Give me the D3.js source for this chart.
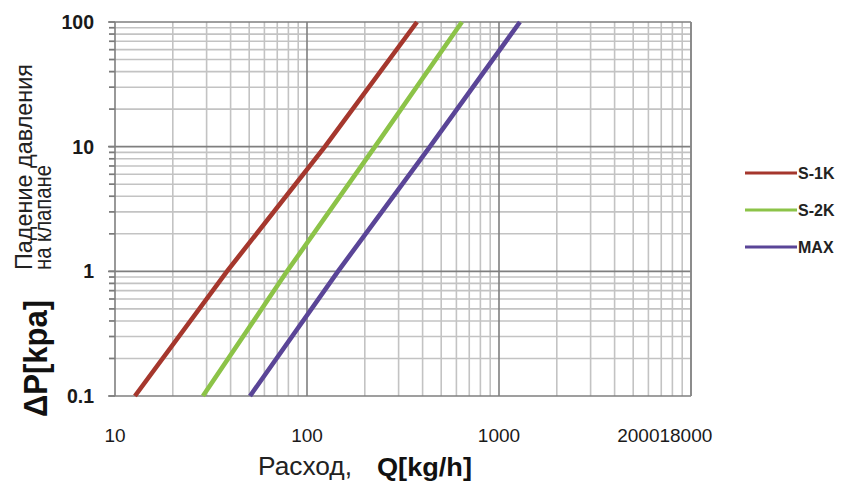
<!DOCTYPE html>
<html>
<head>
<meta charset="utf-8">
<script src="https://d3js.org/d3.v7.min.js"></script>
<style>
  body { margin: 0; background: #fff; }
  svg { font-family: "Liberation Sans", Arial, sans-serif; }
</style>
</head>
<body>
<div id="chart"></div>
<script>
// pressure drop vs. flow, log-log, three valve settings

const pressure = [0.1, 1, 10, 100]; // kPa, points
const seriesNames = ["S-1K", "S-2K", "MAX"];
const flowS1K = [12.7, 38.3, 124, 374];
const flowS2K = [28.7, 78.7, 226, 641];
const flowMAX = [50.5, 145, 437, 1285];
const colors = ["#a5372d", "#8cc348", "#5a4597"];

const xTickValues = [10, 100, 1000, 7300];
const xTickLabels = ["10", "100", "1000", "200018000"];
const yTickValues = [0.1, 1, 10, 100];
const yTickLabels = ["0.1", "1", "10", "100"];

const margin = { top: 22, right: 159, bottom: 87, left: 115 };
const W = 850, H = 483;
const width = W - margin.left - margin.right;
const height = H - margin.top - margin.bottom;

const svgRoot = d3.select("#chart").append("svg")
  .attr("width", W)
  .attr("height", H);

const svg = svgRoot.append("g")
  .attr("transform", `translate(${margin.left},${margin.top})`);

const x = d3.scaleLog().domain([10, 10000]).range([0, width]);
const y = d3.scaleLog().domain([0.1, 100]).range([height, 0]);

const isMajor = (v) => Math.abs(Math.log10(v) - Math.round(Math.log10(v))) < 1e-6;

// minor grid first, then major on top
const xGrid = x.ticks();
const yGrid = y.ticks();

svg.append("g").selectAll("line")
  .data(xGrid.filter((v) => !isMajor(v)))
  .join("line")
  .attr("x1", (d) => x(d)).attr("x2", (d) => x(d))
  .attr("y1", 0).attr("y2", height)
  .attr("stroke", "#c3c3c3").attr("stroke-width", 1.6);

svg.append("g").selectAll("line")
  .data(yGrid.filter((v) => !isMajor(v)))
  .join("line")
  .attr("x1", -6).attr("x2", width)
  .attr("y1", (d) => y(d)).attr("y2", (d) => y(d))
  .attr("stroke", "#c3c3c3").attr("stroke-width", 1.6);

// little tick marks on left of y axis (darker)
svg.append("g").selectAll("line")
  .data(yGrid)
  .join("line")
  .attr("x1", -6).attr("x2", 0)
  .attr("y1", (d) => y(d)).attr("y2", (d) => y(d))
  .attr("stroke", "#7a7a7a").attr("stroke-width", 1.6);

svg.append("g").selectAll("line")
  .data(xGrid.filter(isMajor))
  .join("line")
  .attr("x1", (d) => x(d)).attr("x2", (d) => x(d))
  .attr("y1", 0).attr("y2", height)
  .attr("stroke", "#7f7f7f").attr("stroke-width", 1.6);

svg.append("g").selectAll("line")
  .data(yGrid.filter(isMajor))
  .join("line")
  .attr("x1", -7).attr("x2", width)
  .attr("y1", (d) => y(d)).attr("y2", (d) => y(d))
  .attr("stroke", "#7f7f7f").attr("stroke-width", 1.6);

// right border
svg.append("line")
  .attr("x1", width).attr("x2", width)
  .attr("y1", 0).attr("y2", height)
  .attr("stroke", "#8a8a8a").attr("stroke-width", 1.6);

// series lines
const allFlows = [flowS1K, flowS2K, flowMAX];
const line = d3.line()
  .x((d) => x(d.q))
  .y((d) => y(d.p));

allFlows.forEach((flows, i) => {
  svg.append("path")
    .datum(flows.map((q, j) => ({ q: q, p: pressure[j] })))
    .attr("fill", "none")
    .attr("stroke", colors[i])
    .attr("stroke-width", 4.6)
    .attr("stroke-linecap", "butt")
    .attr("d", line);
});

// tick labels
svg.append("g").selectAll("text")
  .data(yTickValues)
  .join("text")
  .attr("x", -21)
  .attr("y", (d) => y(d))
  .attr("dy", "0.36em")
  .attr("text-anchor", "end")
  .style("font-size", "19.5px")
  .style("font-weight", "bold")
  .style("fill", "#1a1a1a")
  .text((d, i) => yTickLabels[i]);

svg.append("g").selectAll("text")
  .data(xTickValues)
  .join("text")
  .attr("x", (d) => x(d))
  .attr("y", height + 46)
  .attr("text-anchor", "middle")
  .style("font-size", "19px")
  .style("fill", "#1a1a1a")
  .text((d, i) => xTickLabels[i]);

// axis titles
const yTitle = svgRoot.append("g");
yTitle.append("text")
  .attr("transform", "translate(32,270) rotate(-90)")
  .attr("textLength", 206)
  .attr("lengthAdjust", "spacingAndGlyphs")
  .style("font-size", "23px")
  .style("fill", "#222")
  .text("Падение давления");
yTitle.append("text")
  .attr("transform", "translate(51,270) rotate(-90)")
  .attr("textLength", 105)
  .attr("lengthAdjust", "spacingAndGlyphs")
  .style("font-size", "23px")
  .style("fill", "#222")
  .text("на клапане");
yTitle.append("text")
  .attr("transform", "translate(47,417) rotate(-90)")
  .attr("textLength", 117)
  .attr("lengthAdjust", "spacingAndGlyphs")
  .style("font-size", "33px")
  .style("font-weight", "bold")
  .style("fill", "#111")
  .text("ΔP[kpa]");

svgRoot.append("text")
  .attr("x", 258).attr("y", 475)
  .attr("textLength", 94)
  .attr("lengthAdjust", "spacingAndGlyphs")
  .style("font-size", "26px")
  .style("fill", "#222")
  .text("Расход,");
svgRoot.append("text")
  .attr("x", 377).attr("y", 476)
  .attr("textLength", 95)
  .attr("lengthAdjust", "spacingAndGlyphs")
  .style("font-size", "26px")
  .style("font-weight", "bold")
  .style("fill", "#111")
  .text("Q[kg/h]");

// legend
const legend = svgRoot.append("g").attr("transform", "translate(745,173)");
const item = legend.selectAll("g")
  .data(seriesNames)
  .join("g")
  .attr("transform", (d, i) => `translate(0,${i * 37})`);
item.append("line")
  .attr("x1", 0).attr("x2", 52)
  .attr("stroke", (d, i) => colors[i])
  .attr("stroke-width", 3);
item.append("text")
  .attr("x", 53)
  .attr("dy", "0.36em")
  .style("font-size", "16px")
  .style("font-weight", "bold")
  .style("fill", "#222")
  .text((d) => d);
</script>
</body>
</html>
